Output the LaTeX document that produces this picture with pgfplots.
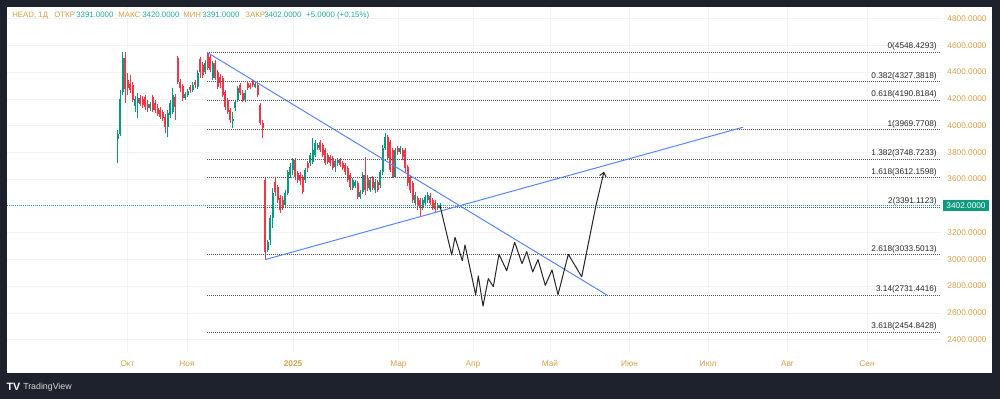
\documentclass[border=0pt]{standalone}
\usepackage{fontspec}
\setmainfont{Liberation Sans}
\usepackage{pgfplots}
\pgfplotsset{compat=1.18}
\usepackage{pgfplotstable}
\usetikzlibrary{arrows.meta}
\definecolor{tvdark}{HTML}{1E222D}
\definecolor{tvgold}{HTML}{D6A04A}
\definecolor{tvteal}{HTML}{22AB94}
\definecolor{tvgreen}{HTML}{089981}
\definecolor{tvred}{HTML}{F23645}
\definecolor{tvblue}{HTML}{5B84FF}
\definecolor{tvgrid}{HTML}{F0F3FA}
\definecolor{tvbox}{HTML}{0E9A7E}
\definecolor{tvfib}{HTML}{555555}
\newcommand{\tvf}{\fontsize{6.2pt}{7.4pt}\selectfont}
\newcommand{\tvh}{\fontsize{5.9pt}{7pt}\selectfont}

\pgfplotstableread{
x o h l c
117.5 3900 3967 3721 3937
120 3937 4266 3922 4199
122.5 4252 4551 4229 4506
135 4147 4222 4102 4199
137.5 4169 4244 4057 4207
150 4132 4177 4110 4162
167.5 3990 4117 3915 4095
170 4080 4192 4057 4169
172.5 4102 4281 4087 4229
185 4207 4252 4192 4237
187.5 4229 4274 4214 4259
192.5 4266 4326 4252 4304
197.5 4289 4416 4274 4394
205 4401 4491 4386 4468
212.5 4356 4483 4341 4468
232.5 4035 4102 3982 4050
235 4132 4192 4110 4177
237.5 4192 4296 4177 4281
245 4192 4266 4177 4244
255 4289 4326 4281 4311
267.5 3070 3145 3055 3130
270 3145 3332 3108 3309
272.5 3309 3534 3235 3496
285 3407 3519 3384 3496
287.5 3496 3668 3481 3653
290 3631 3721 3609 3691
292.5 3668 3758 3631 3743
305 3594 3683 3571 3668
310 3721 3795 3698 3780
312.5 3728 3908 3713 3818
315 3780 3893 3766 3870
317.5 3833 3870 3818 3855
335 3691 3743 3653 3736
337.5 3721 3758 3698 3743
352.5 3534 3609 3519 3594
355 3549 3594 3534 3579
360 3466 3519 3452 3504
362.5 3504 3653 3489 3631
370 3519 3616 3504 3594
375 3519 3601 3496 3579
380 3556 3668 3534 3653
382.5 3653 3855 3631 3833
385 3833 3945 3818 3915
395 3616 3833 3609 3818
400 3803 3848 3788 3833
415 3422 3504 3407 3481
422.5 3392 3459 3369 3444
425 3422 3481 3399 3466
427.5 3444 3504 3422 3481
437.5 3384 3422 3369 3407
440 3391 3420 3391 3402
}\greenT

\pgfplotstableread{
x o h l c
125 4506 4551 4169 4274
127.5 4341 4394 4229 4281
130 4311 4379 4244 4266
132.5 4304 4326 4177 4192
140 4207 4229 4147 4162
142.5 4199 4222 4132 4154
145 4214 4229 4117 4139
147.5 4162 4192 4102 4132
152.5 4214 4229 4102 4117
155 4169 4192 4095 4117
157.5 4132 4162 4072 4087
160 4117 4139 4050 4065
162.5 4102 4117 4035 4057
165 4065 4087 3945 3990
175 4214 4237 4042 4139
177.5 4506 4521 4311 4326
180 4326 4349 4252 4281
182.5 4296 4311 4184 4207
190 4289 4304 4244 4266
195 4326 4341 4281 4304
200 4498 4513 4356 4401
202.5 4453 4476 4356 4379
207.5 4536 4551 4416 4431
210 4513 4528 4401 4416
215 4468 4491 4341 4356
217.5 4401 4416 4274 4289
220 4364 4386 4281 4319
222.5 4356 4371 4214 4229
225 4252 4266 4117 4139
227.5 4192 4207 4087 4102
230 4117 4132 4020 4042
240 4304 4319 4229 4244
242.5 4244 4266 4177 4192
247.5 4319 4334 4266 4281
250 4304 4319 4274 4289
252.5 4326 4341 4289 4304
257.5 4304 4319 4214 4229
260 4154 4169 4005 4020
262.5 4020 4042 3908 3982
265 3594 3609 2995 3055
275 3579 3609 3474 3504
277.5 3541 3556 3422 3444
280 3459 3481 3347 3369
282.5 3444 3474 3369 3392
295 3743 3758 3594 3616
297.5 3646 3661 3571 3594
300 3631 3653 3556 3586
302.5 3616 3631 3489 3504
307.5 3721 3736 3653 3683
320 3878 3893 3803 3818
322.5 3855 3870 3766 3780
325 3818 3833 3706 3721
327.5 3780 3795 3713 3728
330 3766 3780 3698 3721
332.5 3758 3773 3668 3683
340 3743 3758 3691 3706
342.5 3721 3736 3668 3683
345 3706 3721 3631 3653
347.5 3683 3698 3579 3594
350 3631 3646 3519 3541
357.5 3571 3586 3452 3466
365 3631 3766 3481 3519
367.5 3609 3631 3511 3534
372.5 3609 3623 3519 3534
377.5 3579 3594 3504 3519
387.5 3915 3930 3743 3758
390 3878 3893 3653 3668
392.5 3818 3833 3609 3616
397.5 3833 3848 3780 3803
402.5 3818 3833 3743 3766
405 3818 3833 3653 3683
407.5 3691 3706 3549 3571
410 3609 3623 3496 3519
412.5 3571 3586 3422 3444
417.5 3459 3474 3369 3399
420 3444 3459 3317 3384
430 3474 3496 3407 3422
432.5 3444 3459 3369 3384
435 3422 3444 3354 3377
}\redT

\begin{document}
\begin{tikzpicture}
\useasboundingbox (0,0) rectangle (750pt,299.25pt);
\fill[tvdark] (0,0) rectangle (750pt,299.25pt);
\fill[white] (5.25pt,19.5pt) rectangle (744pt,294pt);
\begin{axis}[
  at={(5.25pt,35.25pt)}, anchor=south west,
  scale only axis, width=700.5pt, height=258.75pt,
  xmin=7, xmax=941, ymin=2307.5, ymax=4887.1,
  axis x line*=bottom, axis y line*=right,
  axis line style={draw=none},
  tick style={draw=none},
  clip=false,
  xtick={127.5,187,293,398.5,473,550,629.5,708,787.5,867},
  xticklabels={Окт,Ноя,\textbf{2025},Мар,Апр,Май,Июн,Июл,Авг,Сен},
  ytick={2400,2600,2800,3000,3200,3600,3800,4000,4200,4400,4600,4800},
  xticklabel style={anchor=base, yshift=-10.9pt, font=\tvf, text=tvgold},
  yticklabel style={anchor=center, xshift=19.5pt, font=\tvf, text=tvgold,
     /pgf/number format/.cd, fixed, fixed zerofill, precision=4, 1000 sep={}},
  /pgf/number format/assume math mode=true,
  grid=major, major grid style={tvgrid, line width=0.5pt},
]
% wicks
\addplot[draw=none, mark=none, forget plot, error bars/.cd, y dir=both, y explicit, error mark=none,
  error bar style={draw=tvgreen, line width=0.7pt}]
  table[x=x, y expr={(\thisrow{h}+\thisrow{l})/2}, y error expr={(\thisrow{h}-\thisrow{l})/2}] {\greenT};
\addplot[draw=none, mark=none, forget plot, error bars/.cd, y dir=both, y explicit, error mark=none,
  error bar style={draw=tvred, line width=0.7pt}]
  table[x=x, y expr={(\thisrow{h}+\thisrow{l})/2}, y error expr={(\thisrow{h}-\thisrow{l})/2}] {\redT};
% bodies
\addplot[draw=none, mark=none, forget plot, error bars/.cd, y dir=both, y explicit, error mark=none,
  error bar style={draw=tvgreen, line width=1.5pt}]
  table[x=x, y expr={(\thisrow{o}+\thisrow{c})/2}, y error expr={abs(\thisrow{c}-\thisrow{o})/2+2}] {\greenT};
\addplot[draw=none, mark=none, forget plot, error bars/.cd, y dir=both, y explicit, error mark=none,
  error bar style={draw=tvred, line width=1.5pt}]
  table[x=x, y expr={(\thisrow{o}+\thisrow{c})/2}, y error expr={abs(\thisrow{c}-\thisrow{o})/2+2}] {\redT};

% last price line
\addplot[tvteal, line width=0.6pt, dash pattern=on 0.75pt off 0.75pt] coordinates {(7,3402) (941,3402)};

% fib levels
\pgfplotsset{fibline/.style={tvfib, line width=0.6pt, dash pattern=on 0.75pt off 0.75pt}}
\addplot[fibline] coordinates {(207,4548.4293) (941,4548.4293)};
\addplot[fibline] coordinates {(207,4327.3818) (941,4327.3818)};
\addplot[fibline] coordinates {(207,4190.8184) (941,4190.8184)};
\addplot[fibline] coordinates {(207,3969.7708) (941,3969.7708)};
\addplot[fibline] coordinates {(207,3748.7233) (941,3748.7233)};
\addplot[fibline] coordinates {(207,3612.1598) (941,3612.1598)};
\addplot[fibline] coordinates {(207,3391.1123) (941,3391.1123)};
\addplot[fibline] coordinates {(207,3033.5013) (941,3033.5013)};
\addplot[fibline] coordinates {(207,2731.4416) (941,2731.4416)};
\addplot[fibline] coordinates {(207,2454.8428) (941,2454.8428)};
\begin{scope}[every node/.style={anchor=base east, inner sep=0pt, font=\tvf, text=black!85, yshift=2.6pt}]
\node at (axis cs:937,4548.4293) {0(4548.4293)};
\node at (axis cs:937,4327.3818) {0.382(4327.3818)};
\node at (axis cs:937,4190.8184) {0.618(4190.8184)};
\node at (axis cs:937,3969.7708) {1(3969.7708)};
\node at (axis cs:937,3748.7233) {1.382(3748.7233)};
\node at (axis cs:937,3612.1598) {1.618(3612.1598)};
\node at (axis cs:937,3391.1123) {2(3391.1123)};
\node at (axis cs:937,3033.5013) {2.618(3033.5013)};
\node at (axis cs:937,2731.4416) {3.14(2731.4416)};
\node at (axis cs:937,2454.8428) {3.618(2454.8428)};
\end{scope}

% trend lines
\addplot[tvblue, line width=0.75pt] coordinates {(207,4548.43) (607,2733)};
\addplot[tvblue, line width=0.75pt] coordinates {(265.5,2999) (743,3988)};

% projected path
\addplot[black!85, line width=0.75pt, line join=round, -{Straight Barb[length=3pt,width=5pt]}] coordinates {
(440,3402) (451.7,3033) (455,3165) (462.3,2990) (465,3108) (475.7,2734) (478.3,2876)
(483,2651) (488.3,2856) (493.3,2796) (499,3038) (506.7,2915) (514.7,3128) (522,2968)
(526.7,3058) (532.7,2906) (538,2998) (545.3,2806) (552,2921) (558,2736) (568.3,3038)
(581.7,2870) (595.7,3394) (604,3656)};

% last price box
\node[fill=tvbox, text=white, font=\tvf, minimum width=35pt, minimum height=8.6pt, inner sep=0pt]
  at (axis cs:966,3402) {3402.0000};
\end{axis}

% header
\begin{scope}[every node/.style={anchor=base west, inner sep=0pt, font=\tvh}]
\node[text=tvgold] at (9pt,286pt) {HEAD, 1Д};
\node[text=tvgold] at (40.5pt,286pt) {ОТКР};
\node[text=tvteal] at (57pt,286pt) {3391.0000};
\node[text=tvgold] at (88.5pt,286pt) {МАКС};
\node[text=tvteal] at (106.5pt,286pt) {3420.0000};
\node[text=tvgold] at (137.25pt,286pt) {МИН};
\node[text=tvteal] at (151.5pt,286pt) {3391.0000};
\node[text=tvgold] at (183.75pt,286pt) {ЗАКР};
\node[text=tvteal] at (198pt,286pt) {3402.0000};
\node[text=tvteal] at (229.5pt,286pt) {+5.0000 (+0.15\%)};
\end{scope}

% logo
\node[anchor=center, inner sep=0pt, text=white, font=\fontsize{8pt}{9pt}\selectfont\bfseries] at (10pt,9.2pt) {TV};
\node[anchor=west, inner sep=0pt, text=white!85!black, font=\fontsize{6.6pt}{7.6pt}\selectfont] at (17.25pt,9.2pt) {TradingView};
\end{tikzpicture}
\end{document}
